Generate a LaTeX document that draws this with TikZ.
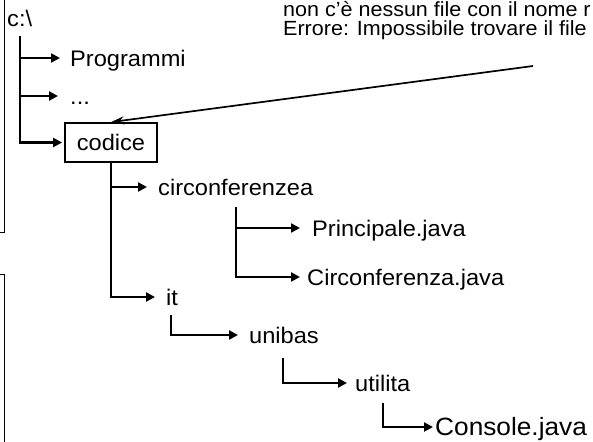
\documentclass[tikz,border=0pt]{standalone}
\usepackage{fontspec}
\setmainfont{Liberation Sans}[FakeStretch=1.05]
\usepackage{tikz}
\usetikzlibrary{arrows.meta}
\definecolor{trInk}{HTML}{000000}
\tikzset{
  tr diagram/.style={x=1pt, y=-1pt, text=trInk, line cap=butt},
  tr label/.style={anchor=west, font=\fontsize{22.5}{27}\selectfont,
    inner xsep=10pt, inner ysep=0pt, text height=17pt, text depth=0pt},
  tr box/.style={draw=trInk, line width=1.8pt, minimum width=92pt,
    minimum height=39pt, inner sep=0pt, font=\fontsize{22.5}{27}\selectfont},
  tr branch/.style={-{Triangle[length=9pt,width=9pt]}, draw=trInk, line width=2.9pt},
  tr pointer/.style={-{Stealth[length=13pt,width=8pt]}, draw=trInk, line width=1.7pt},
  tr note/.style={anchor=base west, font=\fontsize{20.5}{24}\selectfont, inner sep=0pt},
  tr frame/.style={draw=trInk, line width=0.9pt}
}
\begin{document}
\begin{tikzpicture}[tr diagram]
\useasboundingbox (0,0) rectangle (593,441);
\clip (0,0) rectangle (593,441);
\fill[white] (0,0) rectangle (593,441);
% edges of the neighbouring panels
\draw[tr frame] (0,232) -| (4,-2);
\draw[tr frame] (0,274) -| (4,443);
% error note
\node[tr note] (note1) at (283,17) {non c'è nessun file con il nome r};
\node[tr note] (note2) at (283,36) {Errore: Impossibile trovare il file};
% directory tree
\node[tr label, anchor=base west, inner sep=0pt] (root) at (7,27) {c:\textbackslash};
\node[tr label] (prog) at (60,58) {Programmi};
\node[tr label, inner xsep=12pt] (dots) at (58,96) {...};
\node[tr box] (codice) at (111,142.5) {codice};
\node[tr label, inner xsep=11pt] (circ) at (147,187) {circonferenzea};
\node[tr label, inner xsep=12pt] (princ) at (300,228) {Principale.java};
\node[tr label, inner xsep=7pt] (circjava) at (300,277) {Circonferenza.java};
\node[tr label, inner xsep=11pt] (it) at (155,297) {it};
\node[tr label, inner xsep=11pt] (unibas) at (238,335) {unibas};
\node[tr label, inner xsep=8pt] (utilita) at (347,383) {utilita};
\node[tr label, inner xsep=2pt, font=\fontsize{25}{30}\selectfont] (console) at (433,427) {Console.java};
% branches
\coordinate (rootTop) at (20,36);
\coordinate (circTop) at (236,207);
\coordinate (itTop) at (171,315);
\coordinate (unibasTop) at (283,358);
\coordinate (utilitaTop) at (383,403);
\foreach \leaf in {prog,dots} \draw[tr branch] (rootTop) |- (\leaf);
\draw[tr branch, shorten >=2pt] (rootTop) |- (codice);
\foreach \leaf in {circ,it} \draw[tr branch] (codice.south) |- (\leaf);
\foreach \leaf in {princ,circjava} \draw[tr branch] (circTop) |- (\leaf);
\draw[tr branch] (itTop) |- (unibas);
\draw[tr branch] (unibasTop) |- (utilita);
\draw[tr branch] (utilitaTop) |- (console);
% pointer from the note
\coordinate (noteTail) at (533,66);
\draw[tr pointer] (noteTail) -- (codice.north);
\end{tikzpicture}
\end{document}
